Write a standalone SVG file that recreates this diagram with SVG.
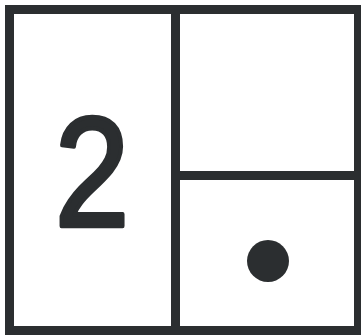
<svg xmlns="http://www.w3.org/2000/svg" width="361" height="335" viewBox="0 0 361 335">
<style>
.ln{fill:none;stroke:#2b2e30;stroke-width:9}
.dg{font-family:"Liberation Sans",Arial,sans-serif;font-size:156px;fill:#2b2e30;stroke:#2b2e30;stroke-width:4.5;stroke-linejoin:round;stroke-linecap:round}
</style>
<rect width="361" height="335" fill="#ffffff"/>
<g id="frame">
<rect class="ln" x="9.5" y="9.5" width="349" height="321"/>
</g>
<g id="connectors">
<line class="ln" x1="175.5" y1="9.5" x2="175.5" y2="330.5"/>
<line class="ln" x1="175.5" y1="175.5" x2="358.5" y2="175.5"/>
</g>
<g id="cell-left">
<text class="dg" transform="translate(92,226) scale(0.86,1)" x="0" y="0" text-anchor="middle">2</text>
</g>
<g id="cell-top-right"></g>
<g id="cell-bottom-right">
<circle cx="268" cy="261" r="21" fill="#2b2e30"/>
</g>
</svg>
